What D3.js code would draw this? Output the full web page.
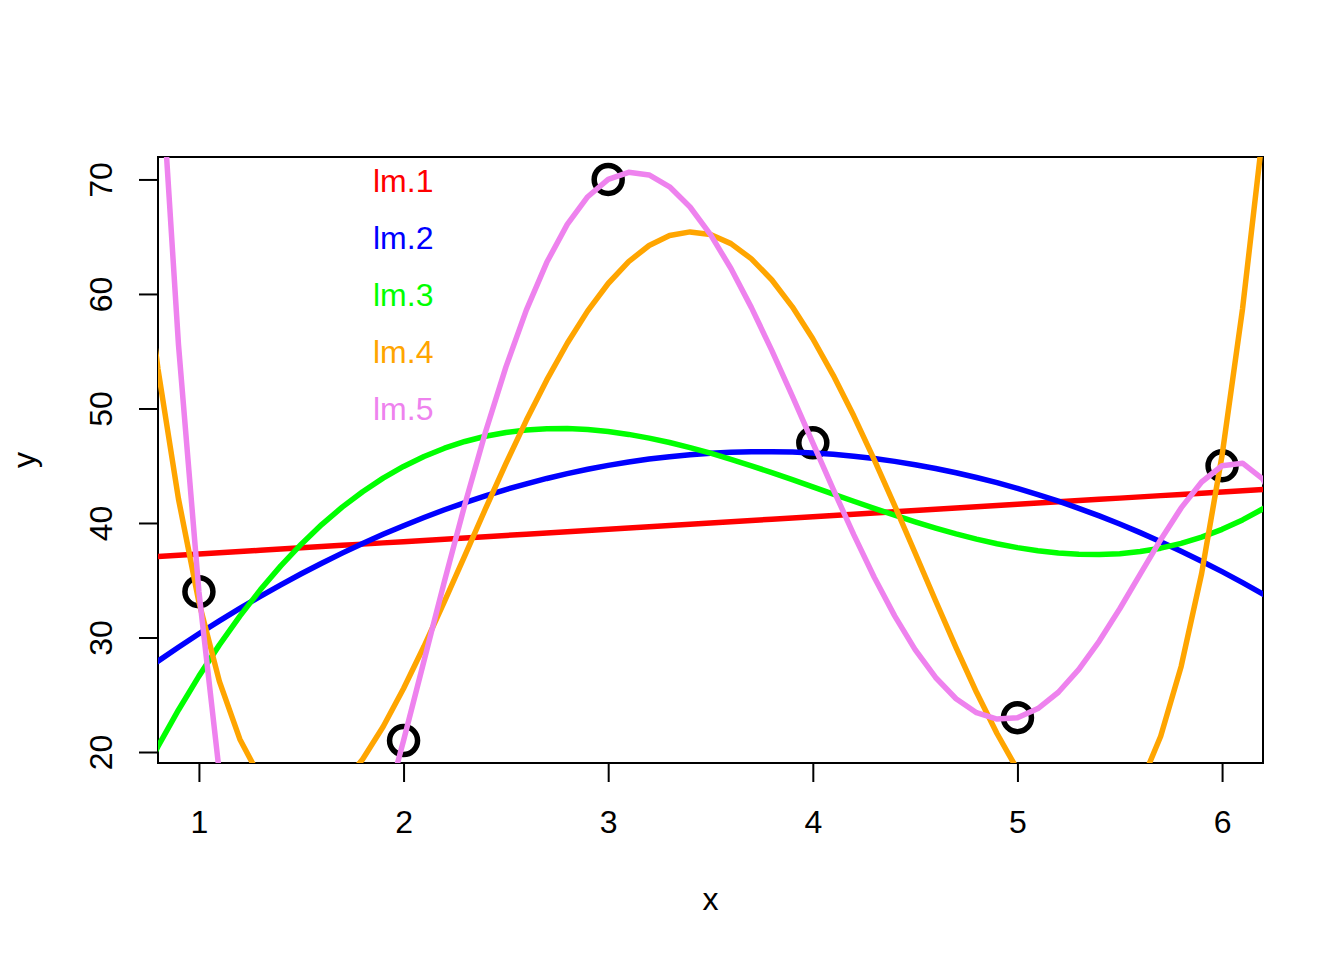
<!DOCTYPE html>
<html>
<head>
<meta charset="utf-8">
<script src="https://cdn.jsdelivr.net/npm/d3@7"></script>
<style>
  html, body { margin: 0; padding: 0; background: #ffffff; }
  svg { display: block; }
  text { font-family: "Liberation Sans", Arial, Helvetica, sans-serif; }
</style>
</head>
<body>
<svg id="chart" width="1344" height="960"></svg>
<script>
// Observed data points
const pointX = [1, 2, 3, 4, 5, 6];
const pointY = [34, 21, 70, 47, 23, 45];

// Evaluation grid of the fitted curves (runs slightly past the plot edges, clipped)
const gridX = [0.7, 0.8, 0.9, 1.0, 1.1, 1.2, 1.3, 1.4, 1.5, 1.6, 1.7, 1.8, 1.9, 2.0, 2.1, 2.2, 2.3, 2.4, 2.5, 2.6, 2.7,
  2.8, 2.9, 3.0, 3.1, 3.2, 3.3, 3.4, 3.5, 3.6, 3.7, 3.8, 3.9, 4.0, 4.1, 4.2, 4.3, 4.4, 4.5, 4.6, 4.7,
  4.8, 4.9, 5.0, 5.1, 5.2, 5.3, 5.4, 5.5, 5.6, 5.7, 5.8, 5.9, 6.0, 6.1, 6.2, 6.3];

// Fitted values of each model on the grid
const lm1 = [36.960, 37.069, 37.177, 37.286, 37.394, 37.503, 37.611, 37.720, 37.829, 37.937, 38.046, 38.154, 38.263, 38.371, 38.480, 38.589, 38.697, 38.806, 38.914, 39.023, 39.131,
  39.240, 39.349, 39.457, 39.566, 39.674, 39.783, 39.891, 40.000, 40.109, 40.217, 40.326, 40.434, 40.543, 40.651, 40.760, 40.869, 40.977, 41.086, 41.194, 41.303,
  41.411, 41.520, 41.629, 41.737, 41.846, 41.954, 42.063, 42.171, 42.280, 42.389, 42.497, 42.606, 42.714, 42.823, 42.931, 43.040];
const lm2 = [26.674, 27.931, 29.147, 30.321, 31.454, 32.544, 33.593, 34.600, 35.565, 36.489, 37.370, 38.210, 39.008, 39.764, 40.479, 41.151, 41.782, 42.371, 42.919, 43.424, 43.888,
  44.310, 44.690, 45.029, 45.325, 45.580, 45.793, 45.964, 46.094, 46.181, 46.227, 46.231, 46.194, 46.114, 45.993, 45.830, 45.625, 45.379, 45.090, 44.760, 44.388,
  43.974, 43.519, 43.021, 42.482, 41.901, 41.279, 40.614, 39.908, 39.160, 38.370, 37.539, 36.665, 35.750, 34.793, 33.794, 32.754];
const lm3 = [17.053, 20.483, 23.672, 26.627, 29.355, 31.865, 34.162, 36.255, 38.151, 39.858, 41.382, 42.732, 43.914, 44.937, 45.806, 46.531, 47.117, 47.573, 47.906, 48.124, 48.233,
  48.241, 48.156, 47.984, 47.734, 47.413, 47.027, 46.585, 46.094, 45.561, 44.993, 44.399, 43.785, 43.159, 42.528, 41.899, 41.281, 40.679, 40.103, 39.558, 39.053,
  38.595, 38.191, 37.849, 37.576, 37.379, 37.267, 37.245, 37.322, 37.505, 37.801, 38.218, 38.764, 39.444, 40.268, 41.242, 42.374];
const lm4 = [67.311, 53.436, 42.107, 33.091, 26.167, 21.118, 17.741, 15.838, 15.223, 15.718, 17.152, 19.368, 22.212, 25.544, 29.230, 33.147, 37.180, 41.223, 45.179, 48.961, 52.491,
  55.698, 58.523, 60.913, 62.826, 64.230, 65.099, 65.419, 65.184, 64.395, 63.066, 61.217, 58.877, 56.087, 52.895, 49.356, 45.539, 41.517, 37.376, 33.208, 29.116,
  25.212, 21.615, 18.456, 15.874, 14.015, 13.037, 13.105, 14.394, 17.088, 21.380, 27.472, 35.575, 45.909, 58.703, 74.195, 92.632];
const lm5 = [119.597, 83.806, 55.589, 34.000, 18.165, 7.272, 0.578, -2.603, -2.895, -0.864, 2.975, 8.163, 14.293, 21.000, 27.969, 34.927, 41.643, 47.923, 53.613, 58.590, 62.764,
  66.075, 68.490, 70.000, 70.621, 70.389, 69.357, 67.594, 65.184, 62.221, 58.808, 55.057, 51.082, 47.000, 42.928, 38.980, 35.265, 31.888, 28.941, 26.507, 24.653,
  23.432, 22.876, 23.000, 23.792, 25.220, 27.214, 29.687, 32.512, 35.529, 38.543, 41.318, 43.577, 45.000, 45.221, 43.824, 40.346];

const seriesNames = ["lm.1", "lm.2", "lm.3", "lm.4", "lm.5"];
const seriesColors = ["#FF0000", "#0000FF", "#00FF00", "#FFA500", "#EE82EE"];
const xTicks = [1, 2, 3, 4, 5, 6];
const yTicks = [20, 30, 40, 50, 60, 70];
const xLabel = "x";
const yLabel = "y";

const seriesValues = [lm1, lm2, lm3, lm4, lm5];

// Layout
const plot = { left: 158, right: 1263, top: 157, bottom: 763 };
const svg = d3.select("#chart");

const x = d3.scaleLinear().domain([0.8, 6.2]).range([plot.left, plot.right]);
const y = d3.scaleLinear().domain([19.04, 71.96]).range([plot.bottom, plot.top]);

svg.append("defs").append("clipPath").attr("id", "plotclip")
  .append("rect")
  .attr("x", plot.left).attr("y", plot.top)
  .attr("width", plot.right - plot.left).attr("height", plot.bottom - plot.top);

// Points
svg.append("g").selectAll("circle")
  .data(pointX.map((d, i) => [d, pointY[i]]))
  .join("circle")
  .attr("cx", d => x(d[0]))
  .attr("cy", d => y(d[1]))
  .attr("r", 14)
  .attr("fill", "none")
  .attr("stroke", "#000")
  .attr("stroke-width", 5.5);

// Axes
const fontSize = 32;
const xAxis = svg.append("g")
  .attr("transform", `translate(0,${plot.bottom})`)
  .call(d3.axisBottom(x).tickValues(xTicks).tickSize(19).tickFormat(d3.format("d")));
xAxis.select(".domain").remove();
xAxis.selectAll(".tick line").attr("stroke", "#000").attr("stroke-width", 2);
xAxis.selectAll(".tick text")
  .attr("y", 70).attr("dy", 0)
  .attr("font-size", fontSize).attr("fill", "#000")
  .style("font-family", '"Liberation Sans", Arial, sans-serif');

const yAxis = svg.append("g")
  .attr("transform", `translate(${plot.left},0)`)
  .call(d3.axisLeft(y).tickValues(yTicks).tickSize(19).tickFormat(d3.format("d")));
yAxis.select(".domain").remove();
yAxis.selectAll(".tick line").attr("stroke", "#000").attr("stroke-width", 2);
yAxis.selectAll(".tick text")
  .attr("x", 0).attr("y", 0).attr("dy", 0)
  .attr("transform", "translate(-46,0) rotate(-90)")
  .attr("text-anchor", "middle")
  .attr("font-size", fontSize).attr("fill", "#000")
  .style("font-family", '"Liberation Sans", Arial, sans-serif');

// Frame
svg.append("rect")
  .attr("x", plot.left).attr("y", plot.top)
  .attr("width", plot.right - plot.left).attr("height", plot.bottom - plot.top)
  .attr("fill", "none").attr("stroke", "#000").attr("stroke-width", 2);

// Axis titles
svg.append("text")
  .attr("x", (plot.left + plot.right) / 2).attr("y", 910)
  .attr("text-anchor", "middle").attr("font-size", fontSize).attr("fill", "#000")
  .text(xLabel);
svg.append("text")
  .attr("transform", `translate(35,${(plot.top + plot.bottom) / 2}) rotate(-90)`)
  .attr("text-anchor", "middle").attr("font-size", fontSize).attr("fill", "#000")
  .text(yLabel);

// Fitted curves
const line = d3.line().x((d, i) => x(gridX[i])).y(d => y(d));
const curves = svg.append("g").attr("clip-path", "url(#plotclip)");
seriesValues.forEach((vals, k) => {
  curves.append("path")
    .attr("d", line(vals))
    .attr("fill", "none")
    .attr("stroke", seriesColors[k])
    .attr("stroke-width", 5.5)
    .attr("stroke-linejoin", "round")
    .attr("stroke-linecap", "round");
});

// Legend (text only)
svg.append("g").selectAll("text")
  .data(seriesNames)
  .join("text")
  .attr("x", 373)
  .attr("y", (d, i) => 192 + i * 57)
  .attr("font-size", fontSize)
  .attr("fill", (d, i) => seriesColors[i])
  .text(d => d);
</script>
</body>
</html>
